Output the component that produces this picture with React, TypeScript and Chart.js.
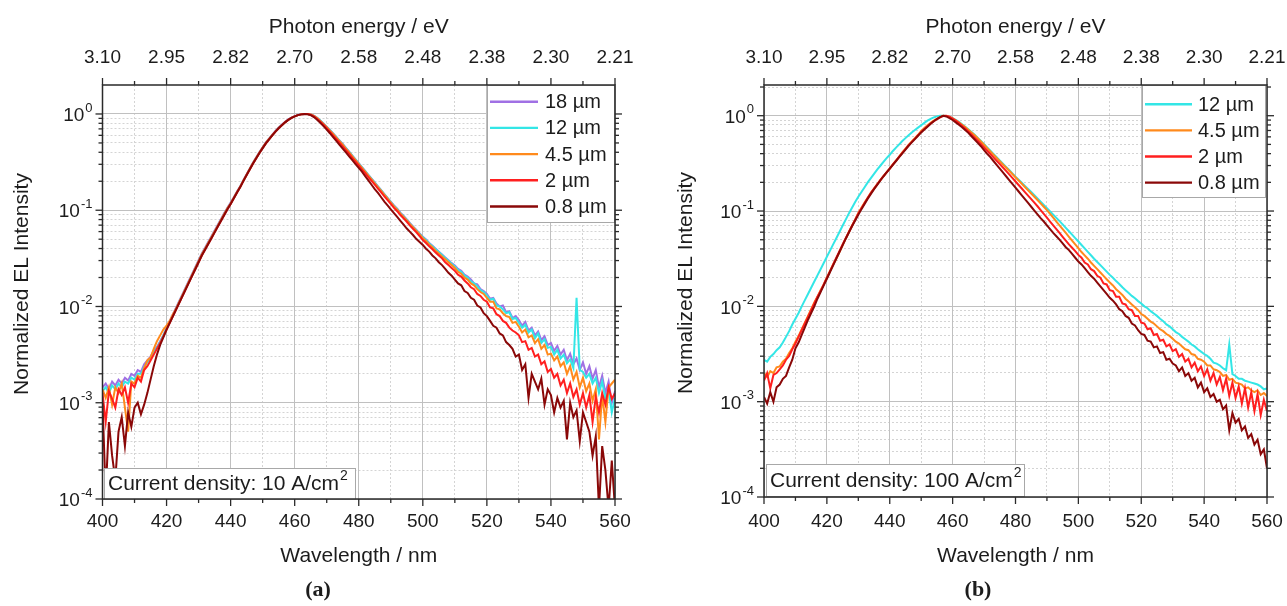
import React, { useEffect, useRef } from 'react';
import { Chart, registerables } from 'chart.js';

Chart.register(...registerables);

// ---------- data ----------
const WAVELENGTH_NM = [
  400, 401, 402, 403, 404, 405, 406, 407, 408, 409,
  410, 411, 412, 413, 414, 415, 416, 417, 418, 419,
  420, 421, 422, 423, 424, 425, 426, 427, 428, 429,
  430, 431, 432, 433, 434, 435, 436, 437, 438, 439,
  440, 441, 442, 443, 444, 445, 446, 447, 448, 449,
  450, 451, 452, 453, 454, 455, 456, 457, 458, 459,
  460, 461, 462, 463, 464, 465, 466, 467, 468, 469,
  470, 471, 472, 473, 474, 475, 476, 477, 478, 479,
  480, 481, 482, 483, 484, 485, 486, 487, 488, 489,
  490, 491, 492, 493, 494, 495, 496, 497, 498, 499,
  500, 501, 502, 503, 504, 505, 506, 507, 508, 509,
  510, 511, 512, 513, 514, 515, 516, 517, 518, 519,
  520, 521, 522, 523, 524, 525, 526, 527, 528, 529,
  530, 531, 532, 533, 534, 535, 536, 537, 538, 539,
  540, 541, 542, 543, 544, 545, 546, 547, 548, 549,
  550, 551, 552, 553, 554, 555, 556, 557, 558, 559,
  560,
];

const X_TICKS = [400, 420, 440, 460, 480, 500, 520, 540, 560];
const X_MINOR_TICKS = [410, 430, 450, 470, 490, 510, 530, 550];
const TOP_TICK_LABELS = ['3.10', '2.95', '2.82', '2.70', '2.58', '2.48', '2.38', '2.30', '2.21'];
const Y_TICKS = [1, 0.1, 0.01, 0.001, 0.0001];
const Y_TICK_EXPONENTS = ['0', '-1', '-2', '-3', '-4'];
const Y_MINOR_MULT = [2, 3, 4, 5, 6, 7, 8, 9];

// Panel (a) — log10 of normalized EL intensity, 10 A/cm2
const A_18UM_LOG10 = [
  -2.84, -2.80, -2.86, -2.78, -2.82, -2.76, -2.80, -2.74, -2.77, -2.70,
  -2.72, -2.66, -2.68, -2.60, -2.56, -2.52, -2.46, -2.42, -2.36, -2.30,
  -2.22, -2.15, -2.08, -2.01, -1.94, -1.87, -1.80, -1.73, -1.66, -1.59,
  -1.52, -1.45, -1.39, -1.33, -1.27, -1.21, -1.15, -1.09, -1.03, -0.975,
  -0.92, -0.865, -0.805, -0.75, -0.685, -0.625, -0.565, -0.505, -0.45, -0.395,
  -0.345, -0.295, -0.255, -0.215, -0.175, -0.14, -0.11, -0.08, -0.057, -0.037,
  -0.022, -0.01, -0.003, 0, 0, -0.005, -0.018, -0.04, -0.068, -0.098,
  -0.132, -0.167, -0.202, -0.238, -0.276, -0.312, -0.352, -0.392, -0.432, -0.472,
  -0.512, -0.552, -0.592, -0.632, -0.672, -0.712, -0.752, -0.792, -0.832, -0.872,
  -0.91, -0.95, -0.985, -1.025, -1.06, -1.095, -1.135, -1.17, -1.205, -1.24,
  -1.275, -1.305, -1.34, -1.37, -1.40, -1.43, -1.46, -1.49, -1.52, -1.55,
  -1.575, -1.61, -1.63, -1.67, -1.69, -1.72, -1.76, -1.77, -1.82, -1.84,
  -1.87, -1.92, -1.91, -1.97, -2.00, -1.99, -2.06, -2.05, -2.12, -2.10,
  -2.14, -2.20, -2.16, -2.25, -2.22, -2.30, -2.26, -2.35, -2.31, -2.40,
  -2.38, -2.46, -2.41, -2.50, -2.45, -2.56, -2.49, -2.60, -2.54, -2.66,
  -2.58, -2.70, -2.62, -2.75, -2.66, -2.84, -2.72, -2.90, -2.78, -3.00,
  -2.88,
];
const A_12UM_LOG10 = [
  -2.88, -2.84, -2.90, -2.82, -2.86, -2.80, -2.84, -2.78, -2.80, -2.74,
  -2.76, -2.70, -2.70, -2.63, -2.58, -2.54, -2.48, -2.43, -2.37, -2.30,
  -2.23, -2.16, -2.09, -2.02, -1.95, -1.88, -1.81, -1.74, -1.67, -1.60,
  -1.53, -1.46, -1.40, -1.34, -1.28, -1.22, -1.16, -1.10, -1.04, -0.98,
  -0.93, -0.87, -0.81, -0.755, -0.69, -0.63, -0.57, -0.51, -0.455, -0.40,
  -0.35, -0.30, -0.26, -0.22, -0.18, -0.145, -0.115, -0.085, -0.06, -0.04,
  -0.025, -0.012, -0.004, 0, 0, -0.005, -0.019, -0.041, -0.069, -0.10,
  -0.134, -0.169, -0.204, -0.241, -0.279, -0.315, -0.355, -0.395, -0.435, -0.475,
  -0.515, -0.555, -0.595, -0.635, -0.675, -0.715, -0.755, -0.795, -0.835, -0.875,
  -0.915, -0.955, -0.99, -1.03, -1.065, -1.10, -1.14, -1.175, -1.21, -1.245,
  -1.28, -1.31, -1.345, -1.375, -1.405, -1.435, -1.465, -1.495, -1.525, -1.555,
  -1.585, -1.62, -1.64, -1.68, -1.70, -1.74, -1.76, -1.79, -1.83, -1.85,
  -1.885, -1.93, -1.92, -1.99, -2.00, -2.03, -2.07, -2.06, -2.13, -2.12,
  -2.17, -2.22, -2.19, -2.27, -2.24, -2.33, -2.28, -2.38, -2.34, -2.43,
  -2.42, -2.50, -2.45, -2.54, -2.50, -2.59, -2.55, -2.64, -1.91, -2.66,
  -2.68, -2.74, -2.70, -2.80, -2.74, -2.90, -2.78, -2.96, -2.86, -3.10,
  -2.95,
];
const A_4_5UM_LOG10 = [
  -2.86, -2.95, -2.84, -3.02, -2.84, -2.90, -2.80, -3.05, -3.30, -2.78,
  -2.80, -2.72, -2.74, -2.64, -2.56, -2.53, -2.44, -2.36, -2.30, -2.24,
  -2.20, -2.15, -2.08, -2.02, -1.95, -1.88, -1.81, -1.74, -1.67, -1.60,
  -1.53, -1.46, -1.40, -1.34, -1.28, -1.22, -1.16, -1.10, -1.04, -0.98,
  -0.93, -0.87, -0.81, -0.755, -0.69, -0.63, -0.57, -0.51, -0.455, -0.40,
  -0.35, -0.30, -0.26, -0.22, -0.18, -0.145, -0.115, -0.085, -0.06, -0.04,
  -0.025, -0.012, -0.004, 0, 0, -0.006, -0.02, -0.043, -0.072, -0.103,
  -0.138, -0.173, -0.208, -0.245, -0.283, -0.32, -0.36, -0.40, -0.44, -0.48,
  -0.52, -0.56, -0.60, -0.64, -0.68, -0.72, -0.76, -0.80, -0.84, -0.88,
  -0.92, -0.96, -0.995, -1.035, -1.07, -1.105, -1.145, -1.18, -1.215, -1.25,
  -1.29, -1.32, -1.355, -1.385, -1.42, -1.45, -1.48, -1.51, -1.54, -1.57,
  -1.60, -1.64, -1.66, -1.70, -1.72, -1.76, -1.78, -1.82, -1.85, -1.87,
  -1.91, -1.95, -1.95, -2.02, -2.03, -2.07, -2.10, -2.11, -2.17, -2.16,
  -2.21, -2.27, -2.24, -2.32, -2.30, -2.38, -2.34, -2.44, -2.40, -2.50,
  -2.49, -2.56, -2.52, -2.62, -2.58, -2.70, -2.62, -2.76, -2.68, -2.84,
  -2.74, -2.88, -2.80, -2.98, -2.86, -3.38, -2.92, -3.20, -2.84, -2.80,
  -2.76,
];
const A_2UM_LOG10 = [
  -2.90, -3.20, -2.88, -2.96, -3.05, -2.86, -2.92, -2.84, -3.00, -2.80,
  -2.84, -2.74, -2.78, -2.66, -2.62, -2.56, -2.50, -2.44, -2.38, -2.31,
  -2.24, -2.17, -2.10, -2.03, -1.96, -1.89, -1.82, -1.75, -1.68, -1.61,
  -1.54, -1.47, -1.41, -1.35, -1.29, -1.23, -1.17, -1.11, -1.05, -0.99,
  -0.935, -0.875, -0.815, -0.76, -0.695, -0.635, -0.575, -0.515, -0.46, -0.405,
  -0.355, -0.305, -0.263, -0.223, -0.183, -0.148, -0.117, -0.087, -0.062, -0.041,
  -0.025, -0.012, -0.004, 0, 0, -0.008, -0.025, -0.05, -0.08, -0.112,
  -0.148, -0.185, -0.222, -0.26, -0.298, -0.337, -0.376, -0.415, -0.455, -0.495,
  -0.535, -0.575, -0.615, -0.655, -0.695, -0.735, -0.775, -0.815, -0.855, -0.895,
  -0.935, -0.975, -1.01, -1.05, -1.085, -1.12, -1.16, -1.195, -1.23, -1.27,
  -1.31, -1.34, -1.375, -1.405, -1.44, -1.47, -1.50, -1.54, -1.57, -1.60,
  -1.63, -1.67, -1.69, -1.73, -1.76, -1.80, -1.82, -1.87, -1.89, -1.93,
  -1.95, -2.01, -2.02, -2.08, -2.10, -2.15, -2.17, -2.22, -2.25, -2.27,
  -2.30, -2.37, -2.36, -2.45, -2.43, -2.52, -2.50, -2.60, -2.57, -2.68,
  -2.65, -2.74, -2.70, -2.82, -2.76, -2.90, -2.80, -2.94, -2.86, -3.02,
  -2.90, -3.05, -2.92, -3.20, -2.94, -3.10, -2.90, -3.02, -2.84, -2.96,
  -2.90,
];
const A_0_8UM_LOG10 = [
  -3.00, -3.95, -3.20, -3.55, -3.80, -3.30, -3.15, -3.45, -3.10, -3.25,
  -3.05, -3.00, -3.12, -3.02, -2.90, -2.76, -2.62, -2.50, -2.40, -2.32,
  -2.24, -2.17, -2.10, -2.03, -1.96, -1.89, -1.82, -1.75, -1.68, -1.61,
  -1.54, -1.47, -1.41, -1.35, -1.29, -1.23, -1.17, -1.11, -1.05, -0.99,
  -0.935, -0.875, -0.815, -0.76, -0.695, -0.635, -0.575, -0.515, -0.46, -0.405,
  -0.355, -0.305, -0.263, -0.223, -0.183, -0.148, -0.117, -0.087, -0.062, -0.041,
  -0.025, -0.012, -0.004, 0, -0.002, -0.012, -0.032, -0.06, -0.092, -0.126,
  -0.162, -0.20, -0.24, -0.28, -0.32, -0.36, -0.40, -0.44, -0.48, -0.52,
  -0.56, -0.60, -0.645, -0.69, -0.735, -0.78, -0.82, -0.865, -0.91, -0.95,
  -0.99, -1.03, -1.07, -1.11, -1.15, -1.19, -1.225, -1.26, -1.30, -1.33,
  -1.36, -1.40, -1.43, -1.47, -1.50, -1.54, -1.57, -1.61, -1.65, -1.68,
  -1.72, -1.76, -1.78, -1.84, -1.86, -1.91, -1.93, -1.99, -2.01, -2.07,
  -2.10, -2.15, -2.20, -2.22, -2.28, -2.30, -2.37, -2.40, -2.44, -2.52,
  -2.50, -2.66, -2.60, -2.95, -2.70, -2.78, -2.86, -2.75, -3.02, -2.86,
  -2.92, -3.10, -2.95, -3.05, -2.98, -3.38, -3.00, -3.15, -3.08, -3.40,
  -3.10, -3.20, -3.30, -3.55, -3.35, -4.10, -3.45, -3.70, -4.10, -3.60,
  -4.10,
];

// Panel (b) — log10 of normalized EL intensity, 100 A/cm2
const B_12UM_LOG10 = [
  -2.56, -2.58, -2.53, -2.50, -2.46, -2.43, -2.38, -2.32, -2.26, -2.19,
  -2.13, -2.07, -2.00, -1.935, -1.87, -1.805, -1.74, -1.675, -1.61, -1.545,
  -1.48, -1.415, -1.35, -1.285, -1.22, -1.155, -1.09, -1.025, -0.965, -0.905,
  -0.85, -0.80, -0.75, -0.70, -0.655, -0.61, -0.565, -0.525, -0.485, -0.445,
  -0.41, -0.37, -0.335, -0.30, -0.265, -0.235, -0.205, -0.175, -0.15, -0.125,
  -0.10, -0.075, -0.052, -0.033, -0.018, -0.007, -0.001, 0, -0.004, -0.012,
  -0.025, -0.043, -0.065, -0.09, -0.115, -0.142, -0.17, -0.20, -0.233, -0.266,
  -0.30, -0.333, -0.367, -0.40, -0.435, -0.47, -0.503, -0.537, -0.57, -0.605,
  -0.64, -0.672, -0.704, -0.736, -0.768, -0.80, -0.834, -0.868, -0.902, -0.936,
  -0.97, -1.004, -1.038, -1.072, -1.106, -1.14, -1.176, -1.212, -1.248, -1.284,
  -1.32, -1.356, -1.392, -1.428, -1.464, -1.50, -1.534, -1.568, -1.602, -1.636,
  -1.67, -1.70, -1.735, -1.765, -1.80, -1.83, -1.86, -1.89, -1.915, -1.945,
  -1.97, -2.00, -2.02, -2.05, -2.075, -2.10, -2.13, -2.155, -2.19, -2.21,
  -2.24, -2.27, -2.29, -2.32, -2.345, -2.37, -2.40, -2.42, -2.45, -2.475,
  -2.50, -2.52, -2.55, -2.59, -2.60, -2.62, -2.65, -2.67, -2.40, -2.71,
  -2.73, -2.76, -2.76, -2.78, -2.79, -2.80, -2.81, -2.82, -2.84, -2.87,
  -2.86,
];
const B_4_5UM_LOG10 = [
  -2.70, -2.74, -2.68, -2.70, -2.64, -2.63, -2.58, -2.55, -2.49, -2.44,
  -2.37, -2.31, -2.24, -2.17, -2.10, -2.03, -1.96, -1.90, -1.83, -1.77,
  -1.70, -1.63, -1.56, -1.50, -1.43, -1.36, -1.29, -1.22, -1.155, -1.09,
  -1.02, -0.965, -0.91, -0.86, -0.81, -0.765, -0.72, -0.675, -0.635, -0.595,
  -0.555, -0.51, -0.47, -0.43, -0.385, -0.345, -0.305, -0.27, -0.235, -0.20,
  -0.16, -0.13, -0.10, -0.075, -0.052, -0.032, -0.015, 0, -0.002, -0.012,
  -0.028, -0.048, -0.07, -0.095, -0.12, -0.147, -0.175, -0.205, -0.237, -0.27,
  -0.305, -0.34, -0.374, -0.408, -0.442, -0.476, -0.51, -0.544, -0.578, -0.612,
  -0.646, -0.68, -0.714, -0.748, -0.782, -0.816, -0.85, -0.884, -0.92, -0.955,
  -0.99, -1.03, -1.07, -1.11, -1.15, -1.19, -1.23, -1.27, -1.31, -1.35,
  -1.39, -1.43, -1.465, -1.50, -1.54, -1.575, -1.61, -1.645, -1.68, -1.715,
  -1.75, -1.78, -1.82, -1.85, -1.88, -1.92, -1.95, -1.98, -2.01, -2.04,
  -2.08, -2.10, -2.13, -2.16, -2.18, -2.21, -2.24, -2.26, -2.29, -2.31,
  -2.34, -2.37, -2.39, -2.42, -2.45, -2.46, -2.50, -2.51, -2.55, -2.56,
  -2.58, -2.62, -2.62, -2.66, -2.67, -2.69, -2.73, -2.72, -2.77, -2.76,
  -2.80, -2.81, -2.82, -2.86, -2.85, -2.88, -2.90, -2.88, -2.93, -2.91,
  -2.94,
];
const B_2UM_LOG10 = [
  -2.78, -2.70, -2.86, -2.72, -2.70, -2.66, -2.62, -2.56, -2.52, -2.45,
  -2.39, -2.32, -2.25, -2.18, -2.11, -2.04, -1.97, -1.90, -1.84, -1.77,
  -1.70, -1.63, -1.56, -1.49, -1.42, -1.35, -1.285, -1.22, -1.155, -1.09,
  -1.025, -0.97, -0.915, -0.86, -0.81, -0.765, -0.72, -0.675, -0.635, -0.595,
  -0.555, -0.51, -0.47, -0.43, -0.39, -0.35, -0.31, -0.275, -0.24, -0.205,
  -0.17, -0.14, -0.11, -0.083, -0.058, -0.036, -0.017, -0.004, 0, -0.01,
  -0.03, -0.052, -0.078, -0.105, -0.135, -0.165, -0.197, -0.23, -0.263, -0.297,
  -0.332, -0.367, -0.402, -0.437, -0.472, -0.507, -0.543, -0.579, -0.615, -0.652,
  -0.69, -0.727, -0.764, -0.801, -0.838, -0.875, -0.912, -0.95, -0.99, -1.03,
  -1.07, -1.11, -1.15, -1.19, -1.23, -1.27, -1.31, -1.35, -1.385, -1.42,
  -1.46, -1.49, -1.54, -1.56, -1.61, -1.63, -1.68, -1.70, -1.76, -1.77,
  -1.83, -1.84, -1.90, -1.90, -1.97, -1.98, -2.03, -2.04, -2.10, -2.10,
  -2.17, -2.18, -2.24, -2.23, -2.30, -2.29, -2.36, -2.35, -2.42, -2.40,
  -2.47, -2.45, -2.53, -2.50, -2.58, -2.55, -2.64, -2.59, -2.68, -2.63,
  -2.73, -2.66, -2.78, -2.70, -2.82, -2.74, -2.88, -2.76, -2.94, -2.80,
  -2.96, -2.84, -3.02, -2.86, -3.06, -2.90, -3.10, -2.92, -3.14, -2.98,
  -3.10,
];
const B_0_8UM_LOG10 = [
  -2.95, -3.02, -2.90, -3.00, -2.85, -2.82, -2.76, -2.73, -2.64, -2.56,
  -2.44, -2.38, -2.30, -2.22, -2.14, -2.07, -2.00, -1.92, -1.85, -1.78,
  -1.71, -1.64, -1.57, -1.50, -1.43, -1.36, -1.29, -1.225, -1.16, -1.10,
  -1.04, -0.98, -0.925, -0.87, -0.82, -0.77, -0.725, -0.68, -0.635, -0.595,
  -0.555, -0.515, -0.475, -0.435, -0.395, -0.355, -0.315, -0.28, -0.245, -0.21,
  -0.175, -0.145, -0.115, -0.085, -0.058, -0.035, -0.015, 0, -0.008, -0.025,
  -0.045, -0.07, -0.095, -0.12, -0.15, -0.18, -0.215, -0.25, -0.285, -0.32,
  -0.36, -0.40, -0.435, -0.475, -0.515, -0.555, -0.595, -0.635, -0.675, -0.715,
  -0.755, -0.795, -0.835, -0.875, -0.915, -0.955, -0.995, -1.035, -1.075, -1.11,
  -1.15, -1.19, -1.23, -1.265, -1.30, -1.34, -1.38, -1.41, -1.45, -1.49,
  -1.53, -1.56, -1.60, -1.64, -1.68, -1.71, -1.75, -1.79, -1.83, -1.87,
  -1.91, -1.94, -1.98, -2.03, -2.05, -2.10, -2.12, -2.18, -2.20, -2.25,
  -2.29, -2.30, -2.36, -2.37, -2.43, -2.42, -2.49, -2.48, -2.56, -2.55,
  -2.60, -2.62, -2.68, -2.64, -2.73, -2.70, -2.78, -2.75, -2.85, -2.80,
  -2.90, -2.86, -2.95, -2.92, -3.00, -2.98, -3.08, -3.04, -3.30, -3.12,
  -3.22, -3.18, -3.30, -3.26, -3.38, -3.34, -3.45, -3.40, -3.55, -3.50,
  -3.70,
];

// ---------- styles ----------
const FONT = '"Liberation Sans", Arial, Helvetica, sans-serif';
const TEXT_COLOR = '#1c1c1c';
const AXIS_COLOR = '#2a2a2a';
const PURPLE = '#a070e4';
const CYAN = '#33e6e6';
const ORANGE = '#ff8a1c';
const RED = '#ff1f1f';
const DARKRED = '#8a0808';

const PANEL_A = {
  offsetX: 0,
  width: 645,
  padding: { left: 102.5, right: 30, top: 85, bottom: 107 },
  yMax: 2,
  series: [
    { label: '18 µm', color: PURPLE, values: A_18UM_LOG10 },
    { label: '12 µm', color: CYAN, values: A_12UM_LOG10 },
    { label: '4.5 µm', color: ORANGE, values: A_4_5UM_LOG10 },
    { label: '2 µm', color: RED, values: A_2UM_LOG10 },
    { label: '0.8 µm', color: DARKRED, values: A_0_8UM_LOG10 },
  ],
  legend: { x1: 487, y1: 85, x2: 614, y2: 222, firstY: 101.7, rowH: 26.2, lineX1: 490, lineX2: 538, textX: 545 },
  note: { text: 'Current density: 10 A/cm', sup: '2', x1: 104, y1: 468, x2: 355, y2: 499, textX: 108 },
  panelLabel: { text: '(a)', x: 318, y: 590 },
  yTitleX: 22,
};

const PANEL_B = {
  offsetX: 645,
  width: 642,
  padding: { left: 119, right: 20, top: 85, bottom: 109 },
  yMax: 2.1,
  series: [
    { label: '12 µm', color: CYAN, values: B_12UM_LOG10 },
    { label: '4.5 µm', color: ORANGE, values: B_4_5UM_LOG10 },
    { label: '2 µm', color: RED, values: B_2UM_LOG10 },
    { label: '0.8 µm', color: DARKRED, values: B_0_8UM_LOG10 },
  ],
  legend: { x1: 1142, y1: 85, x2: 1265, y2: 197, firstY: 104.3, rowH: 26.1, lineX1: 1145, lineX2: 1192, textX: 1198 },
  note: { text: 'Current density: 100 A/cm', sup: '2', x1: 766, y1: 464, x2: 1024, y2: 496, textX: 770 },
  panelLabel: { text: '(b)', x: 978, y: 590 },
  yTitleX: 686,
};

function crisp(v: number) {
  return Math.round(v - 0.5) + 0.5;
}

function line(ctx: CanvasRenderingContext2D, x1: number, y1: number, x2: number, y2: number) {
  ctx.beginPath();
  ctx.moveTo(x1, y1);
  ctx.lineTo(x2, y2);
  ctx.stroke();
}

function yValuesMinor(yMax: number) {
  const out: number[] = [];
  for (const dec of Y_TICKS) {
    for (const m of Y_MINOR_MULT) {
      const v = dec * m;
      if (v < yMax) out.push(v);
    }
  }
  return out;
}

function makePanelPlugin(panel: any) {
  const ox = panel.offsetX;
  return {
    id: 'panelDecor',
    beforeDatasetsDraw(chart: any) {
      const { ctx, chartArea: ca, scales } = chart;
      const xs = scales.x;
      const ys = scales.y;
      ctx.save();
      ctx.lineWidth = 1;
      ctx.strokeStyle = '#d4d4d4';
      ctx.setLineDash([2, 2]);
      for (const v of X_MINOR_TICKS) {
        const p = crisp(xs.getPixelForValue(v));
        line(ctx, p, ca.top, p, ca.bottom);
      }
      for (const v of yValuesMinor(panel.yMax)) {
        const p = crisp(ys.getPixelForValue(v));
        line(ctx, ca.left, p, ca.right, p);
      }
      ctx.setLineDash([]);
      ctx.strokeStyle = '#c0c0c0';
      for (const v of X_TICKS) {
        const p = crisp(xs.getPixelForValue(v));
        line(ctx, p, ca.top, p, ca.bottom);
      }
      for (const v of Y_TICKS) {
        const p = crisp(ys.getPixelForValue(v));
        line(ctx, ca.left, p, ca.right, p);
      }
      ctx.restore();
    },
    afterDatasetsDraw(chart: any) {
      const { ctx, chartArea: ca, scales } = chart;
      const xs = scales.x;
      const ys = scales.y;
      ctx.save();

      // legend box
      const lg = panel.legend;
      ctx.fillStyle = '#ffffff';
      ctx.fillRect(lg.x1 - ox, lg.y1, lg.x2 - lg.x1, lg.y2 - lg.y1);
      ctx.strokeStyle = '#a8a8a8';
      ctx.lineWidth = 1;
      ctx.strokeRect(crisp(lg.x1 - ox), crisp(lg.y1), Math.round(lg.x2 - lg.x1), Math.round(lg.y2 - lg.y1));
      ctx.font = `20px ${FONT}`;
      ctx.textBaseline = 'middle';
      ctx.textAlign = 'left';
      panel.series.forEach((s: any, i: number) => {
        const y = lg.firstY + i * lg.rowH;
        ctx.strokeStyle = s.color;
        ctx.lineWidth = 2.4;
        line(ctx, lg.lineX1 - ox, y, lg.lineX2 - ox, y);
        ctx.fillStyle = TEXT_COLOR;
        ctx.fillText(s.label, lg.textX - ox, y + 1);
      });

      // note box
      const nt = panel.note;
      ctx.fillStyle = '#ffffff';
      ctx.fillRect(nt.x1 - ox, nt.y1, nt.x2 - nt.x1, nt.y2 - nt.y1);
      ctx.strokeStyle = '#a8a8a8';
      ctx.lineWidth = 1;
      ctx.strokeRect(crisp(nt.x1 - ox), crisp(nt.y1), Math.round(nt.x2 - nt.x1), Math.round(nt.y2 - nt.y1));
      const ny = (nt.y1 + nt.y2) / 2 + 1;
      ctx.fillStyle = TEXT_COLOR;
      ctx.font = `21px ${FONT}`;
      ctx.fillText(nt.text, nt.textX - ox, ny);
      const nw = ctx.measureText(nt.text).width;
      ctx.font = `14px ${FONT}`;
      ctx.fillText(nt.sup, nt.textX - ox + nw + 1, ny - 8);

      // frame
      ctx.strokeStyle = AXIS_COLOR;
      ctx.lineWidth = 1.5;
      ctx.strokeRect(ca.left, ca.top, ca.right - ca.left, ca.bottom - ca.top);

      // ticks
      ctx.lineWidth = 1.3;
      const MAJ = 7;
      const MIN = 4;
      for (const v of X_TICKS) {
        const p = xs.getPixelForValue(v);
        line(ctx, p, ca.bottom, p, ca.bottom + MAJ);
        line(ctx, p, ca.top, p, ca.top - MAJ);
      }
      for (const v of X_MINOR_TICKS) {
        const p = xs.getPixelForValue(v);
        line(ctx, p, ca.bottom, p, ca.bottom + MIN);
        line(ctx, p, ca.top, p, ca.top - MIN);
      }
      for (const v of Y_TICKS) {
        const p = ys.getPixelForValue(v);
        line(ctx, ca.left, p, ca.left - MAJ, p);
        line(ctx, ca.right, p, ca.right + MAJ, p);
      }
      for (const v of yValuesMinor(panel.yMax)) {
        const p = ys.getPixelForValue(v);
        line(ctx, ca.left, p, ca.left - MIN, p);
        line(ctx, ca.right, p, ca.right + MIN, p);
      }

      // tick labels
      ctx.fillStyle = TEXT_COLOR;
      ctx.font = `19px ${FONT}`;
      ctx.textAlign = 'center';
      ctx.textBaseline = 'middle';
      X_TICKS.forEach((v, i) => {
        const p = xs.getPixelForValue(v);
        ctx.fillText(String(v), p, 522);
        ctx.fillText(TOP_TICK_LABELS[i], p, 58);
      });
      ctx.textAlign = 'left';
      Y_TICKS.forEach((v, i) => {
        const p = ys.getPixelForValue(v);
        const exp = Y_TICK_EXPONENTS[i];
        ctx.font = `19px ${FONT}`;
        const bw = ctx.measureText('10').width;
        ctx.font = `13px ${FONT}`;
        const ew = ctx.measureText(exp).width;
        const right = ca.left - 10;
        const x0 = right - ew - bw - 1;
        ctx.font = `19px ${FONT}`;
        ctx.fillText('10', x0, p + 2);
        ctx.font = `13px ${FONT}`;
        ctx.fillText(exp, x0 + bw + 1, p - 6);
      });

      // axis titles
      ctx.font = `21px ${FONT}`;
      ctx.textAlign = 'center';
      const cx = (ca.left + ca.right) / 2;
      ctx.fillText('Wavelength / nm', cx, 556);
      ctx.fillText('Photon energy / eV', cx, 27);
      ctx.save();
      ctx.translate(panel.yTitleX - ox, (ca.top + ca.bottom) / 2 - 8);
      ctx.rotate(-Math.PI / 2);
      ctx.fillText('Normalized EL Intensity', 0, 0);
      ctx.restore();

      // panel label
      ctx.font = `bold 22px "Liberation Serif", "DejaVu Serif", serif`;
      ctx.fillText(panel.panelLabel.text, panel.panelLabel.x - ox, panel.panelLabel.y);

      ctx.restore();
    },
  };
}

function buildChart(canvas: HTMLCanvasElement, panel: any) {
  const datasets = panel.series
    .slice()
    .reverse()
    .map((s: any) => ({
      label: s.label,
      data: WAVELENGTH_NM.map((x, i) => ({ x, y: Math.pow(10, s.values[i]) })),
      borderColor: s.color,
      backgroundColor: s.color,
      borderWidth: 2,
      pointRadius: 0,
      tension: 0,
      fill: false,
    }));
  return new Chart(canvas, {
    type: 'line',
    data: { datasets },
    options: {
      responsive: false,
      maintainAspectRatio: false,
      animation: false,
      events: [],
      layout: { padding: panel.padding },
      scales: {
        x: { type: 'linear', min: 400, max: 560, display: false },
        y: { type: 'logarithmic', min: 1e-4, max: panel.yMax, display: false },
      },
      plugins: {
        legend: { display: false },
        tooltip: { enabled: false },
        title: { display: false },
      },
    },
    plugins: [makePanelPlugin(panel)],
  } as any);
}

export default function App() {
  const refA = useRef<HTMLCanvasElement | null>(null);
  const refB = useRef<HTMLCanvasElement | null>(null);
  useEffect(() => {
    const charts: Chart[] = [];
    if (refA.current) charts.push(buildChart(refA.current, PANEL_A));
    if (refB.current) charts.push(buildChart(refB.current, PANEL_B));
    return () => {
      charts.forEach((c) => c.destroy());
    };
  }, []);
  return (
    <div style={{ position: 'fixed', left: 0, top: 0, width: 1287, height: 606, background: '#ffffff', overflow: 'hidden' }}>
      <canvas
        ref={refA}
        width={PANEL_A.width}
        height={606}
        style={{ position: 'absolute', left: PANEL_A.offsetX, top: 0, width: PANEL_A.width, height: 606 }}
      />
      <canvas
        ref={refB}
        width={PANEL_B.width}
        height={606}
        style={{ position: 'absolute', left: PANEL_B.offsetX, top: 0, width: PANEL_B.width, height: 606 }}
      />
    </div>
  );
}
